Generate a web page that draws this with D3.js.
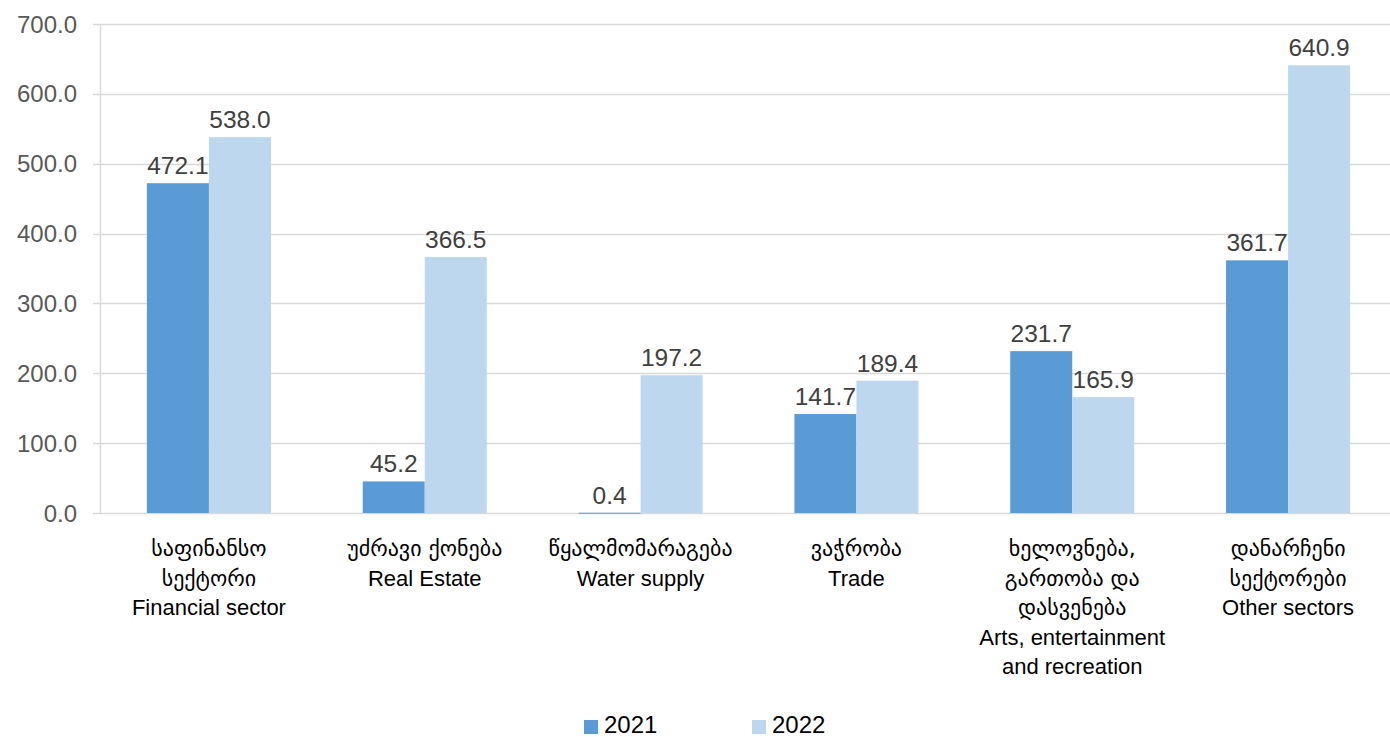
<!DOCTYPE html>
<html>
<head>
<meta charset="utf-8">
<script src="https://cdn.jsdelivr.net/npm/d3@7"></script>
<style>
  body { margin: 0; background: #fff; }
  svg { display: block; }
  text { font-family: "Liberation Sans", Arial, "DejaVu Sans", sans-serif; }
</style>
</head>
<body>
<div id="chart"></div>
<script>
const categories = ["fin", "re", "water", "trade", "arts", "other"];
const categoryLabels = [
  ["საფინანსო", "სექტორი", "Financial sector"],
  ["უძრავი ქონება", "Real Estate"],
  ["წყალმომარაგება", "Water supply"],
  ["ვაჭრობა", "Trade"],
  ["ხელოვნება,", "გართობა და", "დასვენება", "Arts, entertainment", "and recreation"],
  ["დანარჩენი", "სექტორები", "Other sectors"]
];
const seriesNames = ["2021", "2022"];
const values2021 = [472.1, 45.2, 0.4, 141.7, 231.7, 361.7];
const values2022 = [538.0, 366.5, 197.2, 189.4, 165.9, 640.9];
const yTicks = [0, 100, 200, 300, 400, 500, 600, 700];

const W = 1390, H = 737;
const colors = { "2021": "#5B9BD5", "2022": "#BDD7EE" };
const seriesValues = { "2021": values2021, "2022": values2022 };

const svg = d3.select("#chart").append("svg").attr("width", W).attr("height", H);

const x0 = d3.scaleBand().domain(categories).range([101, 1396]).paddingInner(0).paddingOuter(0);
const x1 = d3.scaleBand().domain(seriesNames).range([0, x0.bandwidth()]).paddingInner(0).paddingOuter(0.74);
const y = d3.scaleLinear().domain([0, 700]).range([513, 24]);

// gridlines
svg.append("g").selectAll("line").data(yTicks).join("line")
  .attr("x1", 93).attr("x2", W)
  .attr("y1", d => Math.round(y(d)) + 0.5).attr("y2", d => Math.round(y(d)) + 0.5)
  .attr("stroke", "#D9D9D9").attr("stroke-width", 1.5);

// vertical axis line
svg.append("line").attr("x1", 100.5).attr("x2", 100.5)
  .attr("y1", y(700)).attr("y2", y(0) + 0.5)
  .attr("stroke", "#D9D9D9").attr("stroke-width", 1.5);

// y tick labels
svg.append("g").selectAll("text").data(yTicks).join("text")
  .attr("x", 77).attr("y", d => y(d)).attr("dy", "0.36em")
  .attr("text-anchor", "end").attr("fill", "#595959")
  .attr("font-size", 24).text(d => d3.format(".1f")(d));

// bars
const groups = svg.append("g").selectAll("g").data(categories).join("g")
  .attr("transform", d => `translate(${x0(d)},0)`);

seriesNames.forEach(s => {
  groups.append("rect")
    .attr("x", x1(s))
    .attr("width", x1.bandwidth())
    .attr("y", (d, i) => y(seriesValues[s][i]))
    .attr("height", (d, i) => Math.max(1, y(0) - y(seriesValues[s][i])))
    .attr("fill", colors[s]);
  groups.append("text")
    .attr("x", x1(s) + x1.bandwidth() / 2)
    .attr("y", (d, i) => y(seriesValues[s][i]) - 9)
    .attr("text-anchor", "middle")
    .attr("fill", "#404040").attr("font-size", 24.5)
    .text((d, i) => d3.format(".1f")(seriesValues[s][i]));
});

// category labels
groups.each(function(d, i) {
  const g = d3.select(this);
  categoryLabels[i].forEach((line, j) => {
    const isGeo = /[\u10A0-\u10FF]/.test(line);
    g.append("text")
      .attr("x", x0.bandwidth() / 2)
      .attr("y", 556 + j * 29.5)
      .attr("text-anchor", "middle")
      .attr("fill", "#000")
      .attr("font-size", isGeo ? 22 : 22)
      .style("font-family", isGeo ? "'DejaVu Sans', sans-serif" : null)
      .text(line);
  });
});

// legend
const legendX = { "2021": 584, "2022": 752 };
const legend = svg.append("g");
seriesNames.forEach(s => {
  legend.append("rect").attr("x", legendX[s]).attr("y", 720).attr("width", 14).attr("height", 14)
    .attr("fill", colors[s]);
  legend.append("text").attr("x", legendX[s] + 20).attr("y", 733)
    .attr("font-size", 24).attr("fill", "#000").text(s);
});
</script>
</body>
</html>
